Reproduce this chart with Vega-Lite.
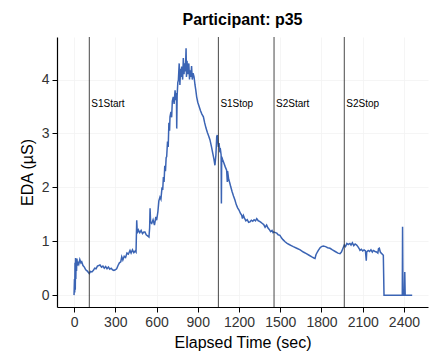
{
  "$schema": "https://vega.github.io/schema/vega-lite/v6.json",
  "width": 371,
  "height": 270,
  "autosize": {"type": "none"},
  "padding": {"left": 57, "top": 37, "right": 8, "bottom": 55},
  "background": "white",
  "title": {"text": "Participant: p35", "fontSize": 16, "fontWeight": "bold", "font": "Liberation Sans", "color": "black", "anchor": "middle", "offset": 9},
  "config": {
    "view": {"stroke": null},
    "axis": {
      "labelFont": "Liberation Sans",
      "titleFont": "Liberation Sans",
      "labelFontSize": 14,
      "titleFontSize": 16,
      "titleFontWeight": "normal",
      "labelColor": "#333333",
      "titleColor": "black",
      "domainColor": "black",
      "domainWidth": 1.2,
      "tickColor": "black",
      "tickSize": 5,
      "gridColor": "#f3f3f3",
      "gridWidth": 0.8
    }
  },
  "datasets": {
    "eda": [
      {"t":0,"v":0},{"t":3,"v":0.3},{"t":5,"v":0.05},{"t":7,"v":0.6},{"t":9,"v":0.1},{"t":11,"v":0.69},{"t":13,"v":0.3},{"t":15,"v":0.65},{"t":18,"v":0.45},{"t":21,"v":0.68},{"t":25,"v":0.55},{"t":30,"v":0.62},{"t":35,"v":0.58},{"t":42,"v":0.66},{"t":50,"v":0.6},{"t":56,"v":0.62},{"t":65,"v":0.55},{"t":75,"v":0.52},{"t":85,"v":0.47},{"t":95,"v":0.45},{"t":105,"v":0.42},{"t":111,"v":0.40},{"t":120,"v":0.44},{"t":130,"v":0.43},{"t":141,"v":0.46},{"t":150,"v":0.50},{"t":160,"v":0.49},{"t":170,"v":0.54},{"t":180,"v":0.55},{"t":189,"v":0.56},{"t":200,"v":0.52},{"t":210,"v":0.54},{"t":220,"v":0.50},{"t":230,"v":0.53},{"t":240,"v":0.49},{"t":250,"v":0.52},{"t":260,"v":0.48},{"t":270,"v":0.50},{"t":280,"v":0.47},{"t":290,"v":0.46},{"t":300,"v":0.47},{"t":310,"v":0.49},{"t":320,"v":0.55},{"t":330,"v":0.60},{"t":340,"v":0.62},{"t":347,"v":0.71},{"t":355,"v":0.65},{"t":365,"v":0.72},{"t":375,"v":0.70},{"t":385,"v":0.78},{"t":395,"v":0.76},{"t":407,"v":0.83},{"t":415,"v":0.78},{"t":425,"v":0.84},{"t":435,"v":0.79},{"t":445,"v":0.82},{"t":451,"v":0.80},{"t":456,"v":1.39},{"t":460,"v":1.15},{"t":468,"v":1.21},{"t":478,"v":1.16},{"t":488,"v":1.20},{"t":498,"v":1.14},{"t":508,"v":1.17},{"t":516,"v":1.17},{"t":525,"v":1.12},{"t":535,"v":1.10},{"t":545,"v":1.08},{"t":550,"v":1.25},{"t":553,"v":1.61},{"t":557,"v":1.35},{"t":565,"v":1.33},{"t":575,"v":1.40},{"t":585,"v":1.30},{"t":595,"v":1.45},{"t":601,"v":1.39},{"t":610,"v":1.55},{"t":617,"v":1.75},{"t":625,"v":1.82},{"t":632,"v":1.78},{"t":640,"v":2.00},{"t":645,"v":1.95},{"t":650,"v":2.19},{"t":655,"v":2.10},{"t":660,"v":2.40},{"t":665,"v":2.30},{"t":670,"v":2.55},{"t":674,"v":2.57},{"t":680,"v":2.85},{"t":685,"v":2.75},{"t":690,"v":3.20},{"t":695,"v":3.05},{"t":698,"v":3.31},{"t":705,"v":3.40},{"t":710,"v":3.30},{"t":715,"v":3.60},{"t":722,"v":3.68},{"t":728,"v":3.55},{"t":735,"v":3.80},{"t":740,"v":3.62},{"t":745,"v":3.75},{"t":747,"v":3.09},{"t":750,"v":3.70},{"t":755,"v":3.95},{"t":759,"v":3.99},{"t":765,"v":4.30},{"t":770,"v":3.90},{"t":775,"v":4.20},{"t":780,"v":4.05},{"t":783,"v":4.24},{"t":790,"v":4.00},{"t":795,"v":4.40},{"t":800,"v":4.10},{"t":805,"v":4.30},{"t":810,"v":4.15},{"t":815,"v":4.58},{"t":818,"v":4.05},{"t":822,"v":4.35},{"t":828,"v":4.10},{"t":835,"v":4.30},{"t":840,"v":4.00},{"t":844,"v":4.17},{"t":850,"v":4.05},{"t":855,"v":4.25},{"t":860,"v":4.00},{"t":866,"v":4.12},{"t":873,"v":4.05},{"t":880,"v":3.90},{"t":886,"v":3.80},{"t":892,"v":3.68},{"t":900,"v":3.58},{"t":910,"v":3.50},{"t":920,"v":3.42},{"t":930,"v":3.36},{"t":941,"v":3.31},{"t":950,"v":3.20},{"t":960,"v":3.10},{"t":970,"v":3.02},{"t":980,"v":2.95},{"t":989,"v":2.88},{"t":1000,"v":2.75},{"t":1010,"v":2.62},{"t":1018,"v":2.52},{"t":1025,"v":2.41},{"t":1032,"v":2.60},{"t":1038,"v":2.94},{"t":1042,"v":2.97},{"t":1046,"v":2.85},{"t":1050,"v":2.75},{"t":1055,"v":2.82},{"t":1060,"v":2.68},{"t":1065,"v":2.70},{"t":1070,"v":2.60},{"t":1072,"v":1.70},{"t":1074,"v":2.57},{"t":1080,"v":2.52},{"t":1090,"v":2.45},{"t":1100,"v":2.38},{"t":1110,"v":2.32},{"t":1115,"v":2.10},{"t":1117,"v":2.30},{"t":1125,"v":2.15},{"t":1133,"v":2.08},{"t":1140,"v":2.01},{"t":1150,"v":1.92},{"t":1160,"v":1.84},{"t":1171,"v":1.76},{"t":1180,"v":1.68},{"t":1190,"v":1.62},{"t":1200,"v":1.58},{"t":1210,"v":1.52},{"t":1220,"v":1.48},{"t":1225,"v":1.42},{"t":1232,"v":1.48},{"t":1240,"v":1.43},{"t":1250,"v":1.38},{"t":1260,"v":1.40},{"t":1270,"v":1.35},{"t":1280,"v":1.36},{"t":1290,"v":1.39},{"t":1300,"v":1.37},{"t":1310,"v":1.40},{"t":1320,"v":1.38},{"t":1329,"v":1.42},{"t":1340,"v":1.38},{"t":1350,"v":1.37},{"t":1360,"v":1.35},{"t":1370,"v":1.33},{"t":1380,"v":1.31},{"t":1390,"v":1.26},{"t":1401,"v":1.30},{"t":1410,"v":1.25},{"t":1420,"v":1.22},{"t":1430,"v":1.18},{"t":1440,"v":1.20},{"t":1448,"v":1.16},{"t":1455,"v":1.17},{"t":1465,"v":1.16},{"t":1475,"v":1.15},{"t":1485,"v":1.12},{"t":1498,"v":1.11},{"t":1510,"v":1.06},{"t":1520,"v":1.03},{"t":1535,"v":0.99},{"t":1550,"v":0.96},{"t":1565,"v":0.94},{"t":1580,"v":0.92},{"t":1595,"v":0.90},{"t":1620,"v":0.87},{"t":1645,"v":0.84},{"t":1668,"v":0.80},{"t":1690,"v":0.77},{"t":1710,"v":0.74},{"t":1730,"v":0.71},{"t":1745,"v":0.69},{"t":1753,"v":0.68},{"t":1760,"v":0.75},{"t":1770,"v":0.80},{"t":1777,"v":0.83},{"t":1790,"v":0.88},{"t":1800,"v":0.90},{"t":1813,"v":0.91},{"t":1830,"v":0.90},{"t":1845,"v":0.88},{"t":1862,"v":0.87},{"t":1880,"v":0.84},{"t":1900,"v":0.81},{"t":1920,"v":0.78},{"t":1935,"v":0.77},{"t":1945,"v":0.80},{"t":1955,"v":0.86},{"t":1966,"v":0.93},{"t":1975,"v":0.90},{"t":1985,"v":0.96},{"t":1995,"v":0.94},{"t":2007,"v":0.96},{"t":2015,"v":0.93},{"t":2025,"v":0.97},{"t":2035,"v":0.92},{"t":2045,"v":0.95},{"t":2056,"v":0.93},{"t":2065,"v":0.90},{"t":2075,"v":0.86},{"t":2080,"v":0.83},{"t":2090,"v":0.85},{"t":2100,"v":0.82},{"t":2110,"v":0.84},{"t":2120,"v":0.82},{"t":2126,"v":0.64},{"t":2129,"v":0.80},{"t":2140,"v":0.83},{"t":2150,"v":0.81},{"t":2160,"v":0.84},{"t":2170,"v":0.80},{"t":2177,"v":0.83},{"t":2190,"v":0.81},{"t":2200,"v":0.80},{"t":2210,"v":0.78},{"t":2215,"v":0.86},{"t":2221,"v":0.87},{"t":2228,"v":0.80},{"t":2235,"v":0.78},{"t":2243,"v":0.76},{"t":2250,"v":0.74},{"t":2255,"v":0},{"t":2300,"v":0},{"t":2350,"v":0},{"t":2388,"v":0},{"t":2390,"v":1.27},{"t":2393,"v":0},{"t":2403,"v":0},{"t":2406,"v":0.43},{"t":2409,"v":0},{"t":2460,"v":0}
    ],
    "events": [
      {"t": 111, "label": "S1Start", "ly": 3.54},
      {"t": 1050, "label": "S1Stop", "ly": 3.54},
      {"t": 1455, "label": "S2Start", "ly": 3.54},
      {"t": 1966, "label": "S2Stop", "ly": 3.54}
    ]
  },
  "layer": [
    {
      "data": {"name": "eda"},
      "mark": {"type": "line", "color": "#3b64b4", "strokeWidth": 1.5, "clip": true},
      "encoding": {
        "x": {"field": "t", "type": "quantitative", "scale": {"domain": [-124, 2575], "nice": false, "zero": false},
              "axis": {"title": "Elapsed Time (sec)", "format": "d", "values": [0,300,600,900,1200,1500,1800,2100,2400], "grid": true, "labelPadding": 3, "titlePadding": 5}},
        "y": {"field": "v", "type": "quantitative", "scale": {"domain": [-0.22, 4.79], "nice": false, "zero": false},
              "axis": {"title": "EDA (µS)", "values": [0,1,2,3,4], "grid": true, "labelPadding": 3, "titlePadding": 6}}
      }
    },
    {
      "data": {"name": "events"},
      "mark": {"type": "rule", "color": "#333333", "strokeWidth": 0.9},
      "encoding": {"x": {"field": "t", "type": "quantitative"}}
    },
    {
      "data": {"name": "events"},
      "mark": {"type": "text", "align": "left", "baseline": "middle", "dx": 2, "fontSize": 10, "font": "Liberation Sans", "color": "black"},
      "encoding": {
        "x": {"field": "t", "type": "quantitative"},
        "y": {"field": "ly", "type": "quantitative"},
        "text": {"field": "label"}
      }
    }
  ]
}
